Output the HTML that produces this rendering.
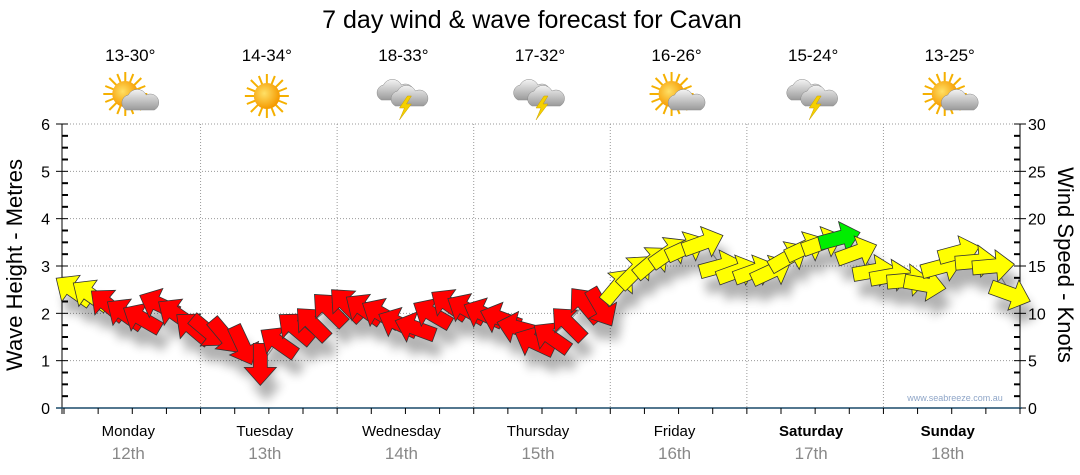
<!DOCTYPE html>
<html><head><meta charset="utf-8"><style>
body{margin:0;background:#fff;width:1080px;height:475px;overflow:hidden;font-family:"Liberation Sans",sans-serif}
svg{display:block}
</style></head><body>
<svg id="chart" width="1080" height="475" xmlns="http://www.w3.org/2000/svg">
<defs>
<filter id="shadow" x="-50%" y="-50%" width="200%" height="200%"><feGaussianBlur stdDeviation="5"/></filter>
<radialGradient id="sunG" cx="40%" cy="40%" r="60%"><stop offset="0" stop-color="#ffe066"/><stop offset="1" stop-color="#f59a00"/></radialGradient>
<linearGradient id="cloudG" x1="0" y1="0" x2="0" y2="1"><stop offset="0" stop-color="#f4f4f4"/><stop offset="1" stop-color="#9a9a9a"/></linearGradient>
<g id="sun"><g stroke="#f5b000" stroke-width="2"><line x1="-22" y1="0" x2="22" y2="0"/><line x1="0" y1="-22" x2="0" y2="22"/><line x1="-16" y1="-16" x2="16" y2="16"/><line x1="-16" y1="16" x2="16" y2="-16"/><line x1="-20" y1="-8" x2="20" y2="8"/><line x1="-20" y1="8" x2="20" y2="-8"/><line x1="-8" y1="-20" x2="8" y2="20"/><line x1="8" y1="-20" x2="-8" y2="20"/></g><circle r="13" fill="url(#sunG)"/></g>
<g id="cloud"><path d="M-14,8 a8,8 0 0 1 2,-15 a10,10 0 0 1 18,0 a8,8 0 0 1 8,15 z" fill="url(#cloudG)" stroke="#888" stroke-width="0.5"/></g>
<g id="storm"><use href="#cloud" transform="translate(-8,-4)"/><use href="#cloud" transform="translate(6,2)"/><path d="M4,0 L-4,12 L1,12 L-4,24 L8,8 L3,8 L8,0z" fill="#f5d000" stroke="#c9a000" stroke-width="0.5"/></g>
</defs>
<text x="532" y="28" text-anchor="middle" font-size="25" fill="#000">7 day wind &amp; wave forecast for Cavan</text>
<g id="grid"></g>
<g id="axes"></g>
<g id="icons"></g>
<path id="seriesLine" fill="none" stroke="#999" stroke-width="1"/>
<g id="shadows" filter="url(#shadow)" opacity="0.3"></g>
<g id="arrows"></g>
<text x="955" y="401" text-anchor="middle" font-size="9" fill="#8fa6c8">www.seabreeze.com.au</text>
<text transform="translate(22,265) rotate(-90)" text-anchor="middle" font-size="22" fill="#000">Wave Height - Metres</text>
<text transform="translate(1058,265) rotate(90)" text-anchor="middle" font-size="22" fill="#000">Wind Speed - Knots</text>
</svg>
<script>
const days=["Monday","Tuesday","Wednesday","Thursday","Friday","Saturday","Sunday"];
const dates=["12th","13th","14th","15th","16th","17th","18th"];
const temps=["13-30°","14-34°","18-33°","17-32°","16-26°","15-24°","13-25°"];
const icons=["partly","sun","storm","storm","partly","storm","partly"];
const waveTicks=[0,1,2,3,4,5,6];
const windTicks=[0,5,10,15,20,25,30];
const windSpeed=[12.5,12,11,10,9.5,11,10,8.5, 8,7.5,6.5,4.5,7,8.5,9,10.5, 11,10.5,10,9,8.5,10,11,10.5, 10,9.5,8.5,7,7.5,9,11,10.5, 13,14.5,15.5,16.5,17,17.5,15,14.5, 14.5,14.5,16,17,17.5,18,16.5,14.5, 14,13.5,13,15,16.5,15.5,15,12];
const windDir=[215,215,220,215,210,205,215,220, 40,50,65,90,215,220,225,225, 225,215,210,205,200,210,215,210, 205,200,195,205,215,225,230,60, -50,-45,-40,-35,-25,-20,-15,-20, -20,-25,-30,-25,-20,-15,-20,-10, -10,-5,10,-15,-15,-5,-5,20];
const windCol=["Y","Y","R","R","R","R","R","R","R","R","R","R","R","R","R","R","R","R","R","R","R","R","R","R","R","R","R","R","R","R","R","R","Y","Y","Y","Y","Y","Y","Y","Y","Y","Y","Y","Y","Y","G","Y","Y","Y","Y","Y","Y","Y","Y","Y","Y"];
const X0=64,X1=1020,Y0=408,Y1=124,DAYW=(X1-X0)/7;
const xH=h=>X0+h/24*DAYW;
const yWave=m=>Y0-m/6*(Y0-Y1);
const yWind=k=>Y0-k/30*(Y0-Y1);
const NS="http://www.w3.org/2000/svg";
function mk(tag,attrs,parent){const e=document.createElementNS(NS,tag);for(const k in attrs)e.setAttribute(k,attrs[k]);parent.appendChild(e);return e;}
const grid=document.getElementById('grid'),axes=document.getElementById('axes'),icG=document.getElementById('icons');
waveTicks.forEach((t,i)=>{if(t>0){const l=mk('line',{x1:X0,x2:X1,y1:yWave(t),y2:yWave(t),stroke:'#999','stroke-dasharray':'1,2'},grid);

}
const tx=mk('text',{x:50,y:yWave(t)+6,'text-anchor':'end','font-size':16,fill:'#000'},axes);tx.textContent=t;


});
windTicks.forEach(t=>{const tx=mk('text',{x:1028,y:yWind(t)+6,'font-size':16,fill:'#000'},axes);tx.textContent=t;

});
for(let m=0;m<=6.001;m+=0.25){const maj=Math.abs(m-Math.round(m))<1e-6;mk('line',{x1:maj?56:62,x2:68,y1:yWave(m),y2:yWave(m),stroke:'#000','stroke-width':maj?1:2},axes);}
for(let k=0;k<=30;k+=1.25){const maj=k%5===0;mk('line',{x1:1014,x2:maj?1026:1020,y1:yWind(k),y2:yWind(k),stroke:'#000','stroke-width':maj?1:2},axes);}
mk('line',{x1:62,x2:62,y1:Y1,y2:Y0+6,stroke:'#000'},axes);
mk('line',{x1:1020,x2:1020,y1:Y1,y2:Y0+6,stroke:'#000'},axes);
const xa=mk('line',{x1:56,x2:1022,y1:Y0,y2:Y0,stroke:'#1a4a6a','stroke-width':1.5},axes);


for(let h=0;h<=168;h+=6){mk('line',{x1:xH(h),x2:xH(h),y1:Y0,y2:Y0+6,stroke:'#000'},axes);}
days.forEach((d,i)=>{
 if(i>0){const v=mk('line',{x1:xH(i*24),x2:xH(i*24),y1:Y1,y2:Y0,stroke:'#999','stroke-dasharray':'1,2'},grid);
 
 }
 const cx=xH(i*24+12)-4;
 const t=mk('text',{x:cx,y:436,'text-anchor':'middle','font-size':15,fill:'#000','font-weight':i>=5?'bold':'normal'},axes);t.textContent=d;
 
 
 const t2=mk('text',{x:cx,y:459,'text-anchor':'middle','font-size':17,fill:'#888'},axes);t2.textContent=dates[i];
 
 
 const t3=mk('text',{x:cx+2,y:61,'text-anchor':'middle','font-size':17,fill:'#000'},icG);t3.textContent=temps[i];
 
 
 const g=mk('g',{transform:`translate(${cx+2},96)`},icG);
 
 
 if(icons[i]==='sun')mk('use',{href:'#sun'},g);
 else if(icons[i]==='partly'){mk('use',{href:'#sun',transform:'translate(-5,-2)'},g);mk('use',{href:'#cloud',transform:'translate(10,6)'},g);}
 else mk('use',{href:'#storm'},g);
});
const arrG=document.getElementById('arrows'),shG=document.getElementById('shadows');
const cols={Y:'#ffff00',R:'#ff0000',G:'#00ee00'};
const arrowPath="M20,0 L2,-16 L2,-7 L-22,-7 L-22,7 L2,7 L2,16 Z";
let d="";
windSpeed.forEach((k,i)=>{
 const x=xH(i*3+1.5),y=yWind(k);
 d+=(i?"L":"M")+x.toFixed(1)+","+y.toFixed(1);
 mk('path',{d:arrowPath,transform:`translate(${x+6},${y+16}) rotate(${windDir[i]})`,fill:'#000'},shG);
 const a=mk('path',{d:arrowPath,transform:`translate(${x},${y}) rotate(${windDir[i]})`,fill:cols[windCol[i]],stroke:'#333','stroke-width':0.8},arrG);
 
 
});
document.getElementById('seriesLine').setAttribute('d',d);
</script>
</body></html>
